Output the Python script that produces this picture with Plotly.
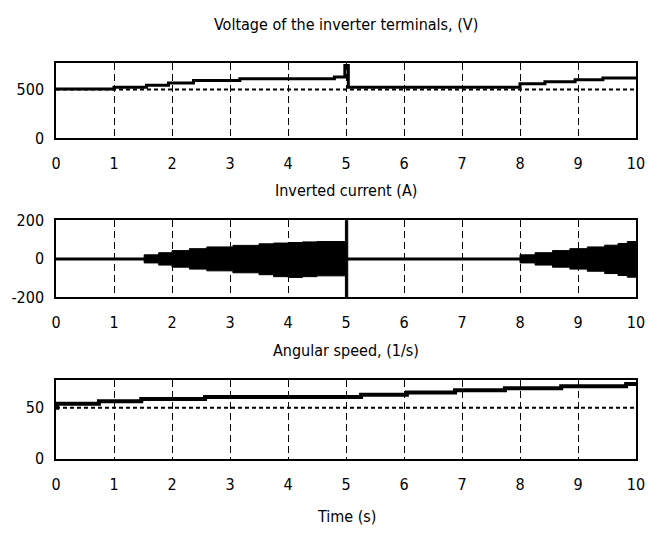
import plotly.graph_objects as go

# ---- data ----
time_ticks = [0, 1, 2, 3, 4, 5, 6, 7, 8, 9, 10]
time_tick_labels = ["0", "1", "2", "3", "4", "5", "6", "7", "8", "9", "10"]

# Voltage of the inverter terminals (step start times, V)
volt_t = [0, 1.0, 1.56, 1.94, 2.37, 3.17, 4.80, 4.98, 5.04, 8.00, 8.43, 8.95, 9.43, 10.0]
volt_v = [505, 522, 542, 565, 590, 610, 626, 745, 522, 558, 578, 600, 618, 618]
volt_ref_t = [0, 10]
volt_ref_v = [500, 500]

# Inverted current envelope (step start times, upper / lower bound A)
cur_t = [0, 1.52, 1.77, 2.00, 2.30, 2.60, 3.05, 3.50, 3.75, 4.00, 4.25, 4.50, 4.99, 5.03,
         8.00, 8.26, 8.56, 8.86, 9.16, 9.46, 9.69, 9.85, 10.0]
cur_hi = [0, 21, 32, 43, 53, 62, 70, 78, 82, 85, 88, 90, 200, 0,
          21, 32, 43, 53, 62, 71, 80, 90, 90]
cur_lo = [0, -21, -32, -43, -53, -62, -72, -82, -92, -96, -92, -88, -200, 0,
          -21, -32, -43, -53, -64, -76, -86, -95, -95]
cur_zero_t = [0, 10]
cur_zero_v = [0, 0]

# Angular speed (step start times, 1/s)
speed_t = [0, 0.02, 0.74, 1.47, 2.57, 5.26, 6.05, 6.88, 7.74, 8.71, 9.83, 10.0]
speed_v = [50, 54.1, 56.6, 58.8, 60.7, 62.9, 65.1, 67.3, 69.2, 71.4, 73.4, 73.4]
speed_ref_t = [0, 10]
speed_ref_v = [50, 50]

# ---- figure ----
W, H = 654, 540
FONT = "DejaVu Sans Condensed, Liberation Sans Narrow, Liberation Sans, Arial"
FS = 16
BLACK = "#000000"

fig = go.Figure()

# top: voltage
fig.add_trace(go.Scatter(x=volt_ref_t, y=volt_ref_v, mode="lines",
                         line=dict(color=BLACK, width=2, dash="4px,3px"),
                         xaxis="x", yaxis="y", showlegend=False))
fig.add_trace(go.Scatter(x=volt_t, y=volt_v, mode="lines", line_shape="hv",
                         line=dict(color=BLACK, width=3),
                         xaxis="x", yaxis="y", showlegend=False))

# middle: current envelope
fig.add_trace(go.Scatter(x=cur_t, y=cur_hi, mode="lines", line_shape="hv",
                         line=dict(color=BLACK, width=1),
                         xaxis="x2", yaxis="y2", showlegend=False))
fig.add_trace(go.Scatter(x=cur_t, y=cur_lo, mode="lines", line_shape="hv",
                         line=dict(color=BLACK, width=1), fill="tonexty", fillcolor=BLACK,
                         xaxis="x2", yaxis="y2", showlegend=False))
fig.add_trace(go.Scatter(x=cur_zero_t, y=cur_zero_v, mode="lines",
                         line=dict(color=BLACK, width=3),
                         xaxis="x2", yaxis="y2", showlegend=False))

# bottom: speed
fig.add_trace(go.Scatter(x=speed_ref_t, y=speed_ref_v, mode="lines",
                         line=dict(color=BLACK, width=2, dash="4px,3px"),
                         xaxis="x3", yaxis="y3", showlegend=False))
fig.add_trace(go.Scatter(x=speed_t, y=speed_v, mode="lines", line_shape="hv",
                         line=dict(color=BLACK, width=4),
                         xaxis="x3", yaxis="y3", showlegend=False))

def xax(anchor):
    return dict(domain=[0, 1], range=[0, 10], anchor=anchor,
                tickmode="array", tickvals=time_ticks, ticktext=time_tick_labels,
                showgrid=True, gridcolor=BLACK, gridwidth=1, griddash="7px,4px",
                showline=True, linecolor=BLACK, linewidth=1.5, mirror=True,
                ticks="", zeroline=False, ticklabelstandoff=10,
                tickfont=dict(family=FONT, size=FS, color=BLACK))

def yax(anchor, dom, rng, vals):
    return dict(domain=dom, range=rng, anchor=anchor,
                tickmode="array", tickvals=vals, ticktext=[str(v) for v in vals],
                showgrid=False, showline=True, linecolor=BLACK, linewidth=1.5, mirror=True,
                ticks="", zeroline=False, ticklabelstandoff=7,
                tickfont=dict(family=FONT, size=FS, color=BLACK))

def dom(top_px, bot_px):
    return [1 - bot_px / H, 1 - top_px / H]

def ypos(px):
    return 1 - px / H

fig.update_layout(
    width=W, height=H,
    margin=dict(l=56, r=18, t=0, b=0),
    paper_bgcolor="white", plot_bgcolor="white",
    xaxis=xax("y"), yaxis=yax("x", dom(56, 134), [0, 770], [0, 500]),
    xaxis2=xax("y2"), yaxis2=yax("x2", dom(219, 299), [-200, 200], [-200, 0, 200]),
    xaxis3=xax("y3"), yaxis3=yax("x3", dom(385, 466), [0, 77], [0, 50]),
    annotations=[
        dict(text="Voltage of the inverter terminals, (V)", x=0.5, y=ypos(16),
             xref="paper", yref="paper", showarrow=False,
             font=dict(family=FONT, size=FS, color=BLACK), yanchor="middle"),
        dict(text="Inverted current (A)", x=0.5, y=ypos(188),
             xref="paper", yref="paper", showarrow=False,
             font=dict(family=FONT, size=FS, color=BLACK), yanchor="middle"),
        dict(text="Angular speed, (1/s)", x=0.5, y=ypos(354),
             xref="paper", yref="paper", showarrow=False,
             font=dict(family=FONT, size=FS, color=BLACK), yanchor="middle"),
        dict(text="Time (s)", x=0.5, y=ypos(526),
             xref="paper", yref="paper", showarrow=False,
             font=dict(family=FONT, size=FS, color=BLACK), yanchor="middle"),
    ],
)

fig.write_html("out.html",
               config={"displayModeBar": False},
               post_script="document.body.style.margin='0px';document.body.style.overflow='hidden';")
